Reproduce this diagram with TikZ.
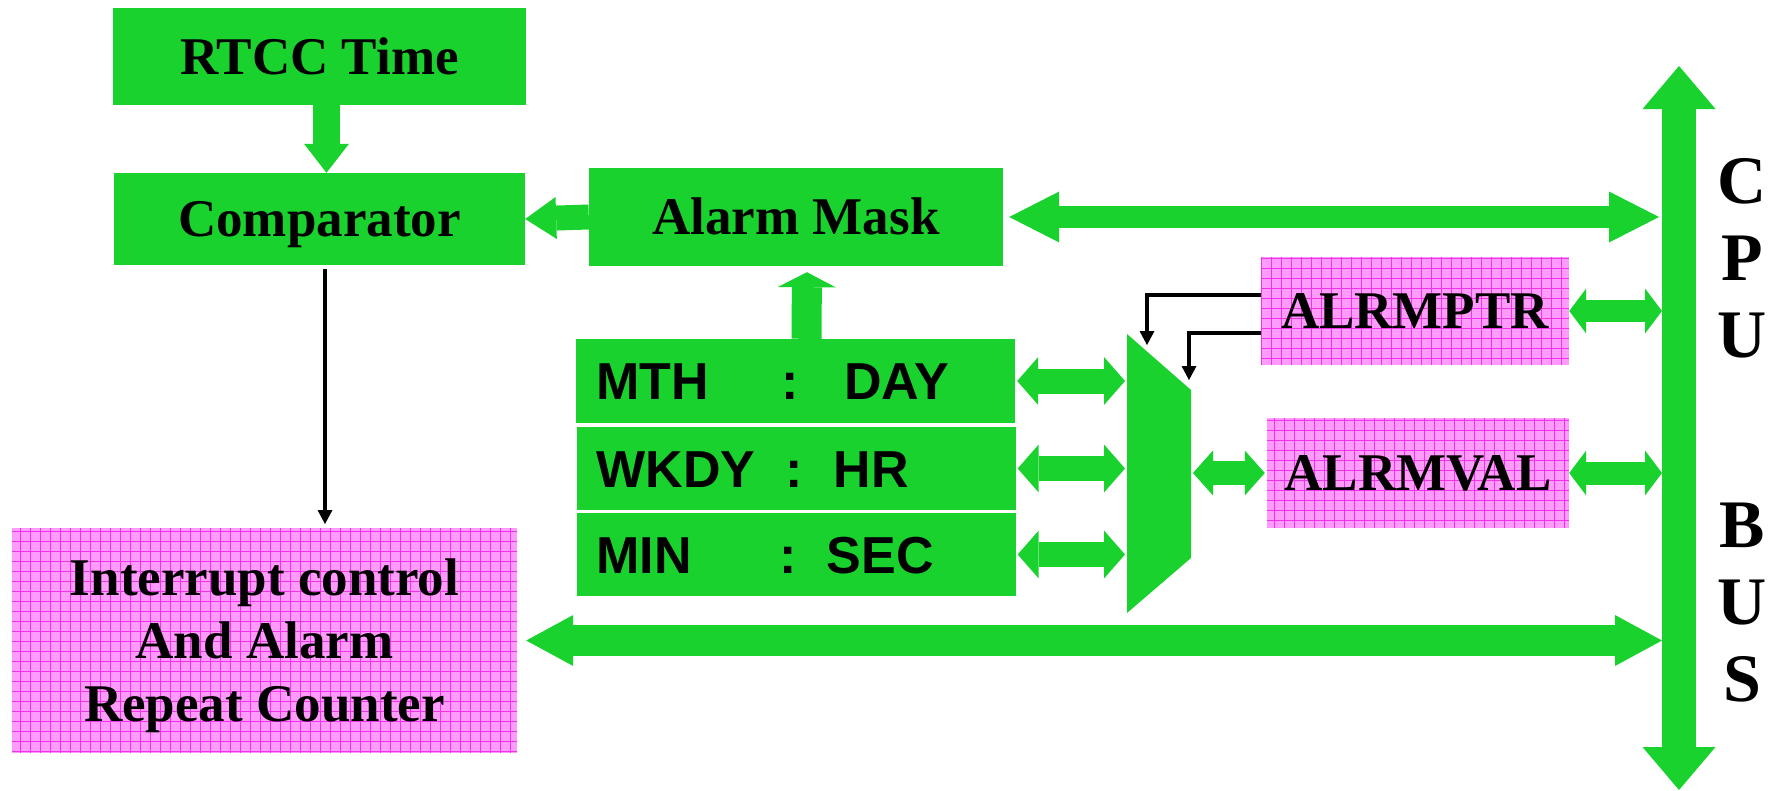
\documentclass[tikz,border=0pt]{standalone}
\usepackage{fontspec}
\setmainfont{Liberation Serif}
\newfontfamily\regfont{Liberation Sans}
\usetikzlibrary{arrows.meta}

\definecolor{rtccgreen}{RGB}{25,210,45}
\definecolor{alrmpink}{RGB}{255,155,250}
\definecolor{alrmgrid}{RGB}{240,50,235}

\newcommand{\regrow}[4]{\makebox[#3pt][l]{#1}:\hspace{#4pt}#2}

\tikzset{
  gbox/.style={fill=rtccgreen, inner sep=0pt, text height=35pt, text depth=0pt, align=center, font=\fontsize{53}{63}\selectfont\bfseries},
  pbox/.style={fill=alrmpink, inner sep=0pt, text height=35pt, text depth=0pt, align=center, font=\fontsize{53}{63}\selectfont\bfseries,
    path picture={\draw[alrmgrid, line width=0.8pt] (path picture bounding box.south west) grid[step=10pt] (path picture bounding box.north east);}},
  reg/.style={fill=rtccgreen, inner xsep=20pt, inner ysep=0pt, text width=399pt, text height=37pt, text depth=0pt, minimum height=83pt, align=left, font=\regfont\fontsize{52}{60}\selectfont\bfseries},
  fat/.style n args={3}{draw=rtccgreen, line width=#1pt, arrows={-Triangle[length=#2pt,width=#3pt,line width=0pt]}},
  fatboth/.style n args={3}{draw=rtccgreen, line width=#1pt, arrows={Triangle[length=#2pt,width=#3pt,line width=0pt]-Triangle[length=#2pt,width=#3pt,line width=0pt]}},
  sig/.style={draw=black, line width=4pt, ->},
  buslbl/.style={inner sep=0pt, align=center, font=\fontsize{68}{77}\selectfont\bfseries},
}

\begin{document}
\begin{tikzpicture}[x=1pt, y=-1pt, >={Triangle[length=14pt,width=15pt,line width=0pt]}]
		\useasboundingbox (0,0) rectangle (1778,790);
		\node[gbox, minimum width=413pt, minimum height=97pt] (rtcc_time) at (319.5,56.5) {RTCC Time};
		\node[gbox, minimum width=411pt, minimum height=92pt] (comparator) at (319.5,219) {Comparator};
		\node[gbox, minimum width=414pt, minimum height=98pt] (alarm_mask) at (796,217) {Alarm Mask};
		\node[reg, minimum height=84pt] (mth_day) at (795.5,381) {\regrow{MTH}{DAY}{186}{45}};
		\node[reg] (wkdy_hr) at (796,468.5) {\regrow{WKDY}{HR}{189}{31}};
		\node[reg] (min_sec) at (796,554.5) {\regrow{MIN}{SEC}{183}{30}};
		\node[pbox, text height=161pt, minimum width=505pt, minimum height=225pt] (irq_ctrl) at (264.5,640.5) {Interrupt control\\And Alarm\\Repeat Counter};
		\node[pbox, minimum width=308pt, minimum height=108pt] (alrmptr) at (1415,311) {ALRMPTR};
		\node[pbox, minimum width=302pt, minimum height=110pt] (alrmval) at (1418,473) {ALRMVAL};
		\node[buslbl] (cpu_lbl) at (1742,258) {C\\P\\U};
		\node[buslbl] (bus_lbl) at (1742,603) {B\\U\\S};

		\fill[rtccgreen] (1127,334) -- (1191,390) -- (1191,558) -- (1127,613) -- cycle;
		\coordinate (mux_in1) at (1125,381);
		\coordinate (mux_in2) at (1125,468.5);
		\coordinate (mux_in3) at (1125,554.5);
		\coordinate (mux_out) at (1193,473);
		\coordinate (mux_sel1) at (1147,345);
		\coordinate (mux_sel2) at (1189,380);
		\coordinate (bus_top) at (1679,66);
		\coordinate (bus_bot) at (1679,790);
		\coordinate (bus_edge) at (1662,0);
		\coordinate (irq_in) at (325,524);

		\draw[fat={27}{29}{45}] ([xshift=7pt]rtcc_time.south) -- ([xshift=7pt]comparator.north);
		\draw[fat={25}{31}{42}] (alarm_mask.west) -- (comparator.east);
		\draw[fat={30}{15}{58}, shorten >=6pt] ([xshift=11pt]mth_day.north) -- ([xshift=11pt]alarm_mask.south);
		\draw[fatboth={22}{50}{51}, shorten <=6pt, shorten >=3pt] (alarm_mask.east) -- (alarm_mask.east -| bus_edge);
		\draw[fatboth={25}{21}{48}, shorten <=2pt] (mth_day.east) -- (mux_in1);
		\draw[fatboth={25}{21}{48}, shorten <=2pt] (wkdy_hr.east) -- (mux_in2);
		\draw[fatboth={25}{21}{48}, shorten <=2pt] (min_sec.east) -- (mux_in3);
		\draw[fatboth={24}{20}{45}, shorten >=2pt] (mux_out) -- (alrmval.west);
		\draw[fatboth={22}{17}{45}] (alrmptr.east) -- (alrmptr.east -| bus_edge);
		\draw[fatboth={23}{17}{45}] (alrmval.east) -- (alrmval.east -| bus_edge);
		\draw[fatboth={31}{47}{51}, shorten <=9pt] (irq_ctrl.east) -- (irq_ctrl.east -| bus_edge);
		\draw[fatboth={34}{43}{73}] (bus_top) -- (bus_bot);
		\draw[sig, shorten <=4pt] (comparator.south -| irq_in) -- (irq_in);
		\draw[sig] ([yshift=16pt]alrmptr.west) -| (mux_sel1);
		\draw[sig] ([yshift=-22pt]alrmptr.west) -| (mux_sel2);
	\end{tikzpicture}
\end{document}
